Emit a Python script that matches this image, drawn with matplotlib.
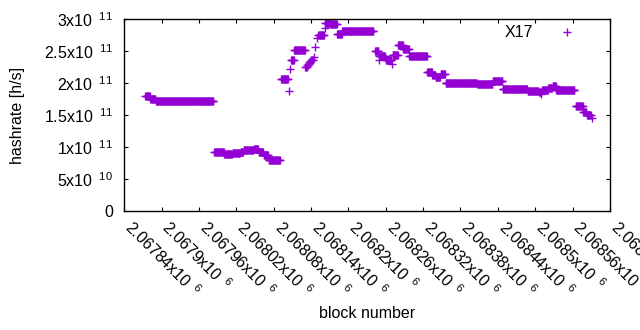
import numpy as np
import matplotlib
matplotlib.use("Agg")
import matplotlib.pyplot as plt
from matplotlib.ticker import FixedLocator, FuncFormatter
from matplotlib.transforms import ScaledTranslation

plt.rcParams['font.family'] = ['Liberation Sans', 'DejaVu Sans']
plt.rcParams['mathtext.fontset'] = 'custom'
plt.rcParams['mathtext.rm'] = 'Liberation Sans'
plt.rcParams['mathtext.default'] = 'regular'

# runs of consecutive blocks sharing one hashrate estimate (start, end, value in 1e9 h/s)
seg_start = [2067874, 2067882, 2067891,
             2067985, 2068001, 2068014, 2068027, 2068032, 2068048, 2068056, 2068064, 2068072,
             2068092, 2068105, 2068106, 2068108, 2068113, 2068131, 2068134, 2068137, 2068140,
             2068145, 2068147, 2068150, 2068152, 2068162, 2068163, 2068171, 2068182, 2068190,
             2068243, 2068249, 2068250, 2068260, 2068270, 2068271, 2068280, 2068288, 2068298,
             2068327, 2068335, 2068340, 2068348, 2068356, 2068407, 2068432, 2068448, 2068488,
             2068506, 2068510, 2068511, 2068521, 2068528, 2068534, 2068565, 2068577, 2068583,
             2068591]
seg_end = [2067881, 2067890, 2067983,
           2068000, 2068013, 2068026, 2068031, 2068047, 2068055, 2068063, 2068071, 2068090,
           2068103, 2068105, 2068106, 2068112, 2068130, 2068133, 2068136, 2068139, 2068143,
           2068145, 2068147, 2068150, 2068161, 2068162, 2068170, 2068181, 2068189, 2068240,
           2068248, 2068249, 2068259, 2068269, 2068270, 2068279, 2068287, 2068297, 2068326,
           2068334, 2068339, 2068347, 2068355, 2068406, 2068431, 2068447, 2068487, 2068505,
           2068509, 2068510, 2068520, 2068527, 2068533, 2068563, 2068576, 2068582, 2068589,
           2068591]
seg_rate = [180, 175, 172,
            93, 89, 91, 92.5, 95.5, 97, 93, 87, 80,
            206, 188, 223, 236, 252, 225, 228, 233, 236,
            241, 257, 271, 276, 286, 294, 292, 277, 282,
            250, 237, 243, 236, 230, 244, 260, 253, 243,
            217, 213, 210, 214, 201, 198, 204, 191, 188,
            187, 183, 190, 192, 196, 189, 164, 155, 150,
            145]

x_ticks = [2067840 + 60 * i for i in range(14)]
y_ticks = [0, 5e10, 1e11, 1.5e11, 2e11, 2.5e11, 3e11]

blocks = np.concatenate([np.arange(s, e + 1) for s, e in zip(seg_start, seg_end)])
rates = np.concatenate([np.full(e - s + 1, r * 1e9) for s, e, r in zip(seg_start, seg_end, seg_rate)])

FS = 11.5


def sci_label(v, pos=None):
    if v == 0:
        return '0'
    exp = int(np.floor(np.log10(abs(v))))
    mant = v / 10 ** exp
    return f'{mant:g}x10 $\\,^{{{exp}}}$'


fig = plt.figure(figsize=(6.4, 3.3), dpi=100)
ax = fig.add_axes([0.194, 0.3606, 0.759, 0.5809])

ax.plot(blocks, rates, linestyle='none', marker='+', markersize=5.5,
        markeredgewidth=1.0, color='#9400d3', label='X17')

ax.set_xlim(2067840, 2068620)
ax.set_ylim(0, 3e11)
ax.xaxis.set_major_locator(FixedLocator(x_ticks))
ax.yaxis.set_major_locator(FixedLocator(y_ticks))
ax.yaxis.set_major_formatter(FuncFormatter(sci_label))

ax.tick_params(direction='in', top=True, right=True, length=3, width=0.8,
               labelsize=FS, colors='black')
ax.tick_params(axis='y', pad=8)
ax.tick_params(axis='x', labelbottom=False)
for sp in ax.spines.values():
    sp.set_linewidth(1.0)

# rotated x tick labels, gnuplot style: text starts just below each tick
lab_trans = ax.get_xaxis_transform() + ScaledTranslation(-0.5 / 72, -13 / 72, fig.dpi_scale_trans)
for t in x_ticks:
    ax.text(t, 0, sci_label(t), transform=lab_trans, rotation=-45,
            rotation_mode='anchor', ha='left', va='baseline', fontsize=FS,
            clip_on=False)

ax.set_xlabel('block number', fontsize=FS)
ax.xaxis.set_label_coords(0.5, -0.4956)
ax.set_ylabel('hashrate [h/s]', fontsize=FS)
ax.yaxis.set_label_coords(-0.205, 0.5)

ax.legend(loc='upper right', bbox_to_anchor=(0.9505, 0.986), frameon=False,
          markerfirst=False, numpoints=1, fontsize=FS, handlelength=2,
          handletextpad=1.1, borderaxespad=0, borderpad=0.2)

fig.savefig('out.png', dpi=100)
